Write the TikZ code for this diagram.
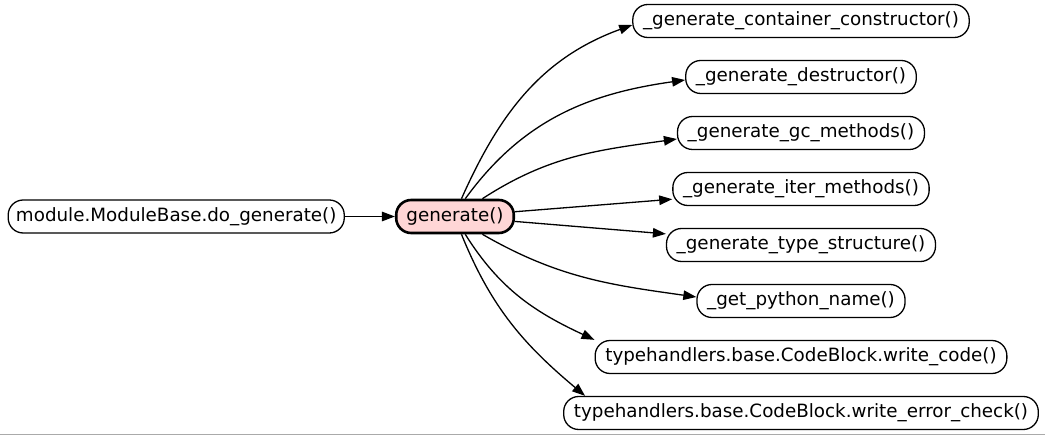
\documentclass[tikz,border=0pt]{standalone}
\usepackage{fontspec}
\setmainfont{DejaVu Sans}
\usetikzlibrary{arrows.meta,positioning}
\definecolor{callpink}{RGB}{255,214,214}
\definecolor{framegray}{RGB}{170,170,170}

\begin{document}
\begin{tikzpicture}[x=1pt, y=-1pt, >={Triangle[length=13pt,width=9.5pt]},
      font=\fontsize{18.3}{21}\selectfont,
      fnode/.style={draw, line width=1.3pt, rounded corners=15pt, fill=white,
                    minimum height=33pt, inner xsep=10.2pt, inner ysep=0pt},
      focus/.style={fnode, line width=2.6pt, fill=callpink},
      arr/.style={->, line width=1.3pt}
    ]
    \useasboundingbox (0,0) rectangle (1045,435);
    \draw[framegray, line width=1.2pt] (0,434.4) -- (1045,434.4);

    \node[focus] (gen) at (455,216.5) {generate()};
    \node[fnode, inner xsep=7.8pt, left=50pt of gen] (caller) {module.ModuleBase.do\_generate()};

    % callees, stacked under one another
    \node[fnode] (c1) at (801,21) {\_generate\_container\_constructor()};
    \node[fnode, below=21.7pt of c1] (c2) {\_generate\_destructor()};
    \node[fnode, below=21.7pt of c2] (c3) {\_generate\_gc\_methods()};
    \node[fnode, below=21.7pt of c3] (c4) {\_generate\_iter\_methods()};
    \node[fnode, below=21.7pt of c4] (c5) {\_generate\_type\_structure()};
    \node[fnode, below=21.7pt of c5] (c6) {\_get\_python\_name()};
    \node[fnode, below=21.7pt of c6] (c7) {typehandlers.base.CodeBlock.write\_code()};
    \node[fnode, below=21.7pt of c7] (c8) {typehandlers.base.CodeBlock.write\_error\_check()};

    \draw[arr] (caller) -- (gen);

    \draw[arr] (gen.70) to[out=66, in=200] ([yshift=-4pt]c1.west);
    \draw[arr] (gen.60) to[out=54, in=188] ([yshift=-3pt]c2.west);
    \draw[arr] (gen.33) to[out=33, in=188] ([yshift=-6pt]c3.west);
    \draw[arr] (gen) -- (c4);
    \draw[arr] (gen) -- (c5);
    \draw[arr] (gen.-33) to[out=-30, in=172] ([yshift=4pt]c6.west);
    \draw[arr] (gen.-60) to[out=-58, in=155] (c7.north west);
    \draw[arr] (gen.-70) to[out=-68, in=140] ([xshift=22pt]c8.north west);
  \end{tikzpicture}
\end{document}
